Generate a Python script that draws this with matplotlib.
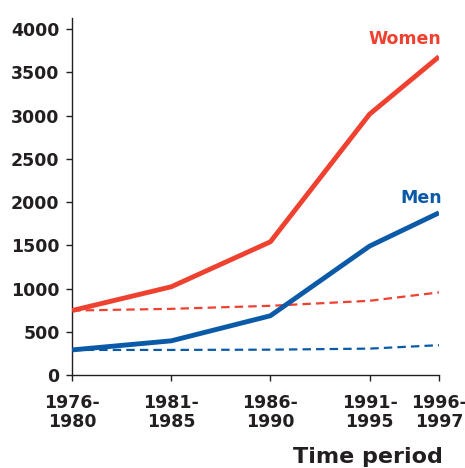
import matplotlib
matplotlib.use("Agg")
import matplotlib.pyplot as plt

periods = ["1976-\n1980", "1981-\n1985", "1986-\n1990", "1991-\n1995", "1996-\n1997"]
period_mid = [1978, 1983, 1988, 1993, 1996.5]
women = [745, 1020, 1540, 3015, 3680]
men = [290, 395, 685, 1490, 1875]
women_expected = [745, 765, 800, 858, 955]
men_expected = [290, 290, 293, 305, 345]
yticks = [0, 500, 1000, 1500, 2000, 2500, 3000, 3500, 4000]

RED = "#EE4130"
BLUE = "#0A5AA8"
DARK = "#231F20"

plt.rcParams['font.family'] = ['DejaVu Sans']

fig = plt.figure(figsize=(4.65, 4.68), dpi=100)
ax = fig.add_axes([0.155, 0.1987, 0.789, 0.7628])

ax.plot(period_mid, women, color=RED, lw=3.5, solid_capstyle='butt', zorder=3)
ax.plot(period_mid, men, color=BLUE, lw=3.5, solid_capstyle='butt', zorder=3)
ax.plot(period_mid, women_expected, color=RED, lw=1.6, dashes=(3.8, 2.3), zorder=2)
ax.plot(period_mid, men_expected, color=BLUE, lw=1.6, dashes=(3.8, 2.3), zorder=2)

ax.set_xlim(period_mid[0], period_mid[-1])
ax.set_ylim(0, 4127)
ax.set_xticks(period_mid)
ax.set_xticklabels(periods, fontsize=12.5, fontweight='bold', color=DARK, linespacing=1.05)
ax.set_yticks(yticks)
ax.set_yticklabels([str(v) for v in yticks], fontsize=12.5, fontweight='bold', color=DARK)

for s in ['top', 'right']:
    ax.spines[s].set_visible(False)
for s in ['left', 'bottom']:
    ax.spines[s].set_color(DARK)
    ax.spines[s].set_linewidth(1.0)
ax.tick_params(axis='both', direction='out', length=4, width=1.0, color=DARK)
ax.tick_params(axis='x', pad=10)
ax.tick_params(axis='y', pad=5)

ax.text(405 / 465, 1 - 39 / 468, "Women", transform=fig.transFigure, color=RED,
        fontsize=12.5, fontweight='bold', ha='center', va='center')
ax.text(421 / 465, 1 - 198 / 468, "Men", transform=fig.transFigure, color=BLUE,
        fontsize=12.5, fontweight='bold', ha='center', va='center')
fig.text(443 / 465, 1 - 457 / 468, "Time period", color=DARK,
         fontsize=16, fontweight='bold', ha='right', va='center')

fig.savefig("out.png", dpi=100)
